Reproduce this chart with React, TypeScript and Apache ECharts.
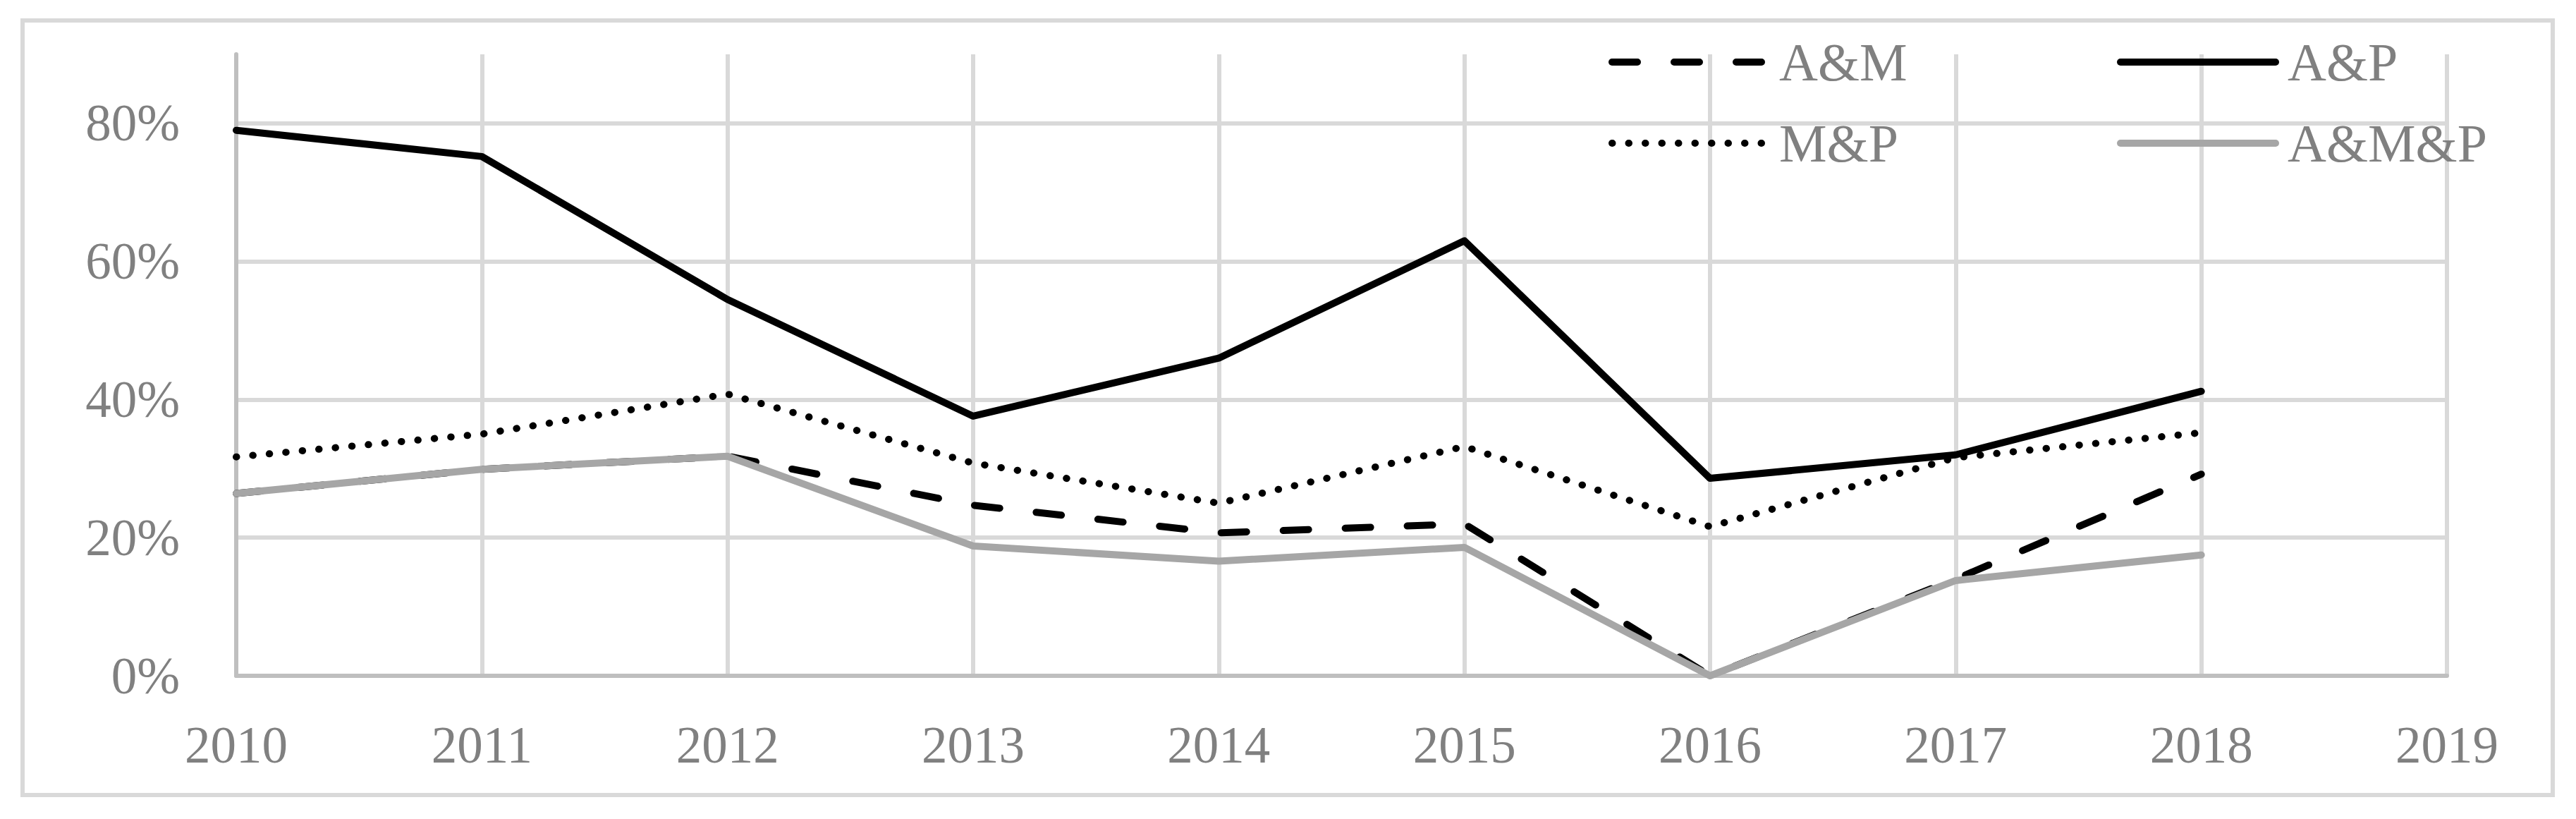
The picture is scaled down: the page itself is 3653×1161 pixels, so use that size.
import React, { useEffect, useRef } from "react";
import * as echarts from "echarts";

const years = ["2010", "2011", "2012", "2013", "2014", "2015", "2016", "2017", "2018", "2019"];
const seriesNames = ["A&M", "A&P", "M&P", "A&M&P"];
const amValues = [0.264, 0.299, 0.318, 0.247, 0.207, 0.22, 0.0, 0.14, 0.292];
const apValues = [0.79, 0.752, 0.545, 0.376, 0.46, 0.63, 0.286, 0.32, 0.412];
const mpValues = [0.317, 0.35, 0.408, 0.308, 0.25, 0.332, 0.216, 0.316, 0.352];
const ampValues = [0.264, 0.299, 0.318, 0.188, 0.166, 0.186, 0.0, 0.138, 0.175];
const yTicks = [0, 0.2, 0.4, 0.6, 0.8];

const FONT = "'Liberation Serif', 'Times New Roman', serif";
const TEXT = "#808080";
const LW = 10;

export default function App() {
  const ref = useRef<HTMLDivElement>(null);
  useEffect(() => {
    const chart = echarts.init(ref.current!, null, { renderer: "svg" });
    const legendBase = (name: string, left: number, top: number) => ({
      data: [name],
      left,
      top,
      orient: "horizontal",
      itemWidth: 220,
      itemHeight: 20,
      padding: 0,
      selectedMode: false,
      itemStyle: { opacity: 0 },
      lineStyle: { width: LW, cap: "round" },
      textStyle: {
        color: TEXT,
        fontFamily: FONT,
        fontSize: 76,
        lineHeight: 80,
        padding: [0, 0, 0, 12],
      },
    });
    const option: any = {
      animation: false,
      backgroundColor: "#ffffff",
      graphic: [
        {
          type: "rect",
          shape: { x: 32, y: 29, width: 3588, height: 1098 },
          style: { fill: "none", stroke: "#d9d9d9", lineWidth: 6 },
          silent: true,
        },
      ],
      legend: [
        legendBase(seriesNames[0], 2281, 48),
        legendBase(seriesNames[1], 3002, 48),
        legendBase(seriesNames[2], 2281, 163),
        legendBase(seriesNames[3], 3002, 163),
      ],
      grid: { left: 335, right: 183, top: 77, bottom: 203, containLabel: false },
      xAxis: {
        type: "category",
        data: years,
        boundaryGap: false,
        axisLine: { show: true, lineStyle: { color: "#bfbfbf", width: 6 } },
        axisTick: { show: false },
        axisLabel: { color: TEXT, fontFamily: FONT, fontSize: 73, margin: 62 },
        splitLine: { show: true, lineStyle: { color: "#d9d9d9", width: 6 } },
      },
      yAxis: {
        type: "value",
        min: 0,
        max: 0.9,
        interval: 0.2,
        axisLine: { show: true, lineStyle: { color: "#bfbfbf", width: 6 } },
        axisTick: { show: false },
        axisLabel: {
          color: TEXT,
          fontFamily: FONT,
          fontSize: 73,
          margin: 80,
          showMaxLabel: false,
          formatter: (v: number) =>
            yTicks.some((t) => Math.abs(t - v) < 1e-6) ? Math.round(v * 100) + "%" : "",
        },
        splitLine: { show: true, showMaxLine: false, lineStyle: { color: "#d9d9d9", width: 6 } },
      },
      series: [
        {
          name: seriesNames[0],
          type: "line",
          data: amValues,
          symbol: "none",
          lineStyle: { color: "#000000", width: LW, type: [36, 52], cap: "round", join: "round" },
          itemStyle: { color: "#000000" },
          z: 2,
        },
        {
          name: seriesNames[1],
          type: "line",
          data: apValues,
          symbol: "none",
          lineStyle: { color: "#000000", width: LW, type: "solid", cap: "round", join: "round" },
          itemStyle: { color: "#000000" },
          z: 3,
        },
        {
          name: seriesNames[2],
          type: "line",
          data: mpValues,
          symbol: "none",
          lineStyle: { color: "#000000", width: LW, type: [0.5, 23], cap: "round", join: "round" },
          itemStyle: { color: "#000000" },
          z: 4,
        },
        {
          name: seriesNames[3],
          type: "line",
          data: ampValues,
          symbol: "none",
          lineStyle: { color: "#a6a6a6", width: LW, type: "solid", cap: "round", join: "round" },
          itemStyle: { color: "#a6a6a6" },
          z: 5,
        },
      ],
    };
    chart.setOption(option);
    return () => chart.dispose();
  }, []);
  return (
    <div
      ref={ref}
      style={{ position: "fixed", left: 0, top: 0, width: 3653, height: 1161, background: "#fff" }}
    />
  );
}
